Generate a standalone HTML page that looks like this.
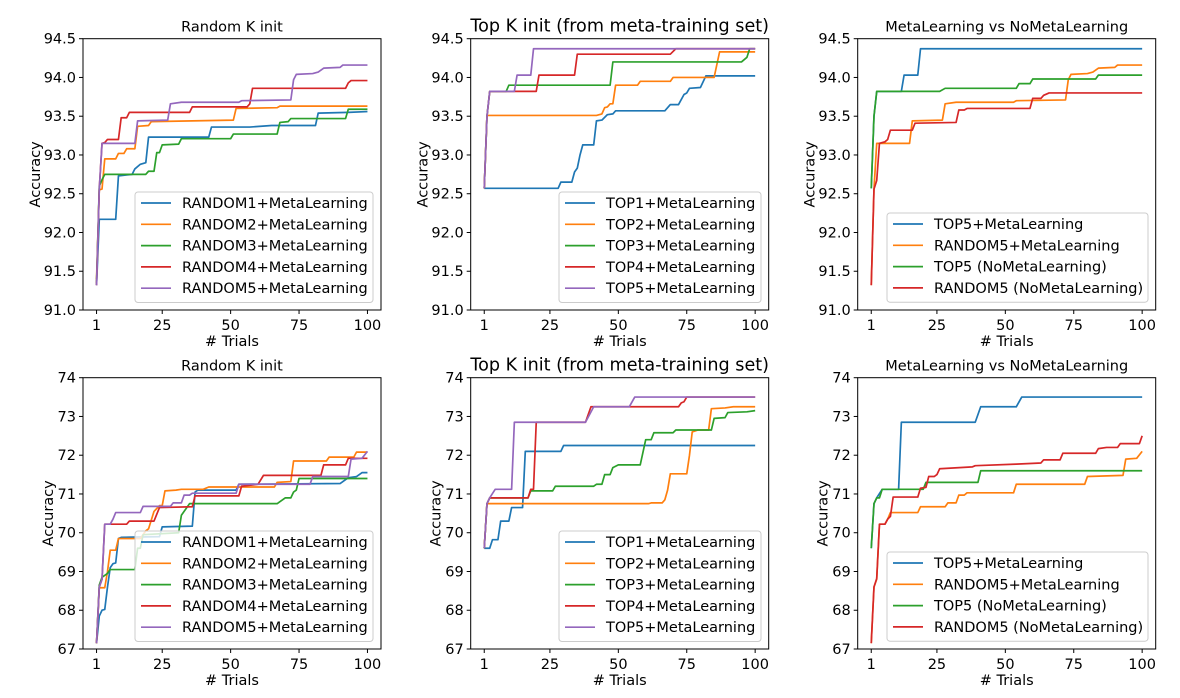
<!DOCTYPE html>
<html><head><meta charset="utf-8">
<style>
html,body{margin:0;padding:0;background:#fff;}
svg{display:block;font-family:"DejaVu Sans","Liberation Sans",sans-serif;}
</style></head>
<body>
<svg id="fig" width="1180" height="698" viewBox="0 0 1180 698"></svg>
<script>
const C = ['#1f77b4','#ff7f0e','#2ca02c','#d62728','#9467bd'];
const xTicks = [1,25,50,75,100];
const yTicksTop = [91.0,91.5,92.0,92.5,93.0,93.5,94.0,94.5];
const yTicksBot = [67,68,69,70,71,72,73,74];
const titles = ['Random K init','Top K init (from meta-training set)','MetaLearning vs NoMetaLearning'];
const legendRandom = ['RANDOM1+MetaLearning','RANDOM2+MetaLearning','RANDOM3+MetaLearning','RANDOM4+MetaLearning','RANDOM5+MetaLearning'];
const legendTop = ['TOP1+MetaLearning','TOP2+MetaLearning','TOP3+MetaLearning','TOP4+MetaLearning','TOP5+MetaLearning'];
const legendCmp = ['TOP5+MetaLearning','RANDOM5+MetaLearning','TOP5 (NoMetaLearning)','RANDOM5 (NoMetaLearning)'];

// Top row, plot 1 (trial x, accuracy y)
const p1x = [
 [1,2,8,9,14,15,17,19,20,42,43,57,65,81,82,93,100],
 [1,2,3,4,8,9,11,12,15,16,20,21,51,52,67,68,100],
 [1,2,3,4,19,20,22,23,24,25,31,32,50,51,67,68,71,72,92,93,100],
 [1,2,3,4,5,9,10,12,13,35,36,56,57,58,92,93,94,100],
 [1,2,3,15,16,27,28,32,53,54,72,73,74,80,82,84,90,91,100]];
const p1y = [
 [91.32,92.17,92.17,92.73,92.75,92.82,92.88,92.9,93.23,93.23,93.36,93.36,93.38,93.38,93.54,93.55,93.56],
 [91.4,92.55,92.56,92.95,92.95,93.02,93.02,93.08,93.08,93.37,93.38,93.43,93.45,93.6,93.61,93.63,93.63],
 [91.35,92.6,92.68,92.75,92.75,92.79,92.79,93.03,93.03,93.13,93.14,93.21,93.21,93.27,93.27,93.42,93.43,93.47,93.47,93.59,93.59],
 [91.32,92.56,93.15,93.16,93.2,93.2,93.48,93.48,93.55,93.55,93.62,93.62,93.66,93.86,93.86,93.93,93.96,93.96],
 [91.32,92.56,93.15,93.15,93.44,93.45,93.66,93.68,93.68,93.7,93.71,93.97,94.04,94.05,94.07,94.12,94.13,94.16,94.16]];
// Top row, plot 2
const p2x = [
 [1,28,29,33,34,35,36,37,41,42,44,46,48,49,67,69,72,74,75,76,80,82,100],
 [1,2,42,44,45,46,47,48,49,57,58,69,70,85,87,100],
 [1,2,3,9,10,47,48,95,97,98,100],
 [1,2,3,20,21,34,35,69,71,100],
 [1,2,3,12,13,18,19,100]];
const p2y = [
 [92.57,92.57,92.65,92.65,92.78,92.83,93.0,93.13,93.13,93.44,93.45,93.52,93.53,93.57,93.57,93.65,93.65,93.78,93.8,93.86,93.87,94.02,94.02],
 [92.57,93.51,93.51,93.53,93.61,93.62,93.66,93.66,93.9,93.9,93.95,93.95,94.0,94.0,94.33,94.33],
 [92.57,93.5,93.82,93.82,93.9,93.9,94.2,94.2,94.26,94.37,94.37],
 [92.57,93.5,93.82,93.82,94.03,94.03,94.3,94.3,94.37,94.37],
 [92.57,93.5,93.82,93.82,94.03,94.03,94.37,94.37]];
// Top row, plot 3
const p3x = [
 [1,2,3,12,13,18,19,100],
 [1,2,3,15,16,27,28,32,53,54,72,73,74,80,82,84,90,91,100],
 [1,2,3,26,28,54,55,59,60,83,84,100],
 [1,2,3,4,6,7,8,16,17,32,33,35,36,59,60,63,64,66,100]];
const p3y = [
 [92.57,93.5,93.82,93.82,94.03,94.03,94.37,94.37],
 [91.32,92.56,93.15,93.15,93.44,93.45,93.66,93.68,93.68,93.7,93.71,93.97,94.04,94.05,94.07,94.12,94.13,94.16,94.16],
 [92.57,93.5,93.82,93.82,93.86,93.86,93.92,93.92,93.98,93.98,94.03,94.03],
 [91.32,92.56,92.67,93.15,93.17,93.2,93.32,93.32,93.41,93.42,93.58,93.58,93.6,93.6,93.73,93.73,93.77,93.8,93.8]];
// Bottom row, plot 4
const p4x = [
 [1,2,3,4,5,6,7,8,9,10,24,25,36,37,38,52,53,90,93,96,98,100],
 [1,2,4,5,6,8,9,17,19,20,22,24,25,26,30,32,40,42,66,67,72,73,85,86,95,96,100],
 [1,2,3,5,6,15,16,17,18,31,32,33,35,67,68,70,72,73,74,75,100],
 [1,2,3,4,12,13,22,24,36,37,53,54,60,62,83,84,92,93,100],
 [1,2,3,4,6,7,8,17,18,28,29,32,33,35,36,52,53,79,80,93,94,98,100]];
const p4y = [
 [67.15,67.85,68.0,68.02,68.6,69.1,69.2,69.22,69.85,69.88,69.9,70.15,70.17,71.05,71.1,71.1,71.25,71.27,71.42,71.45,71.55,71.55],
 [67.15,68.58,68.58,69.0,69.55,69.55,69.85,69.85,70.05,70.1,70.55,70.7,70.7,71.08,71.1,71.12,71.12,71.18,71.18,71.3,71.32,71.85,71.85,71.95,71.95,72.08,72.08],
 [67.15,68.65,68.85,68.95,69.05,69.05,69.6,69.6,69.95,70.0,70.45,70.55,70.75,70.75,70.8,70.9,70.9,71.05,71.1,71.4,71.4],
 [67.15,68.6,68.8,70.22,70.22,70.3,70.3,70.65,70.67,70.95,70.95,71.2,71.25,71.48,71.48,71.75,71.75,71.92,71.92],
 [67.15,68.6,68.8,70.22,70.22,70.35,70.52,70.52,70.68,70.68,70.77,70.77,70.97,70.97,71.02,71.02,71.25,71.25,71.45,71.45,71.9,71.92,72.1]];
// Bottom row, plot 5
const p5x = [
 [1,3,4,6,7,10,11,15,16,29,30,100],
 [1,2,61,62,66,67,68,69,75,76,77,79,83,84,89,92,100],
 [1,2,3,17,18,26,27,41,42,44,45,47,48,50,58,60,62,63,70,71,84,85,89,90,97,100],
 [1,2,3,17,18,19,20,38,40,72,73,74,75,100],
 [1,2,3,5,11,12,38,41,54,56,100]];
const p5y = [
 [69.6,69.6,69.82,69.82,70.3,70.3,70.65,70.65,72.1,72.1,72.25,72.25],
 [69.6,70.75,70.75,70.77,70.77,70.85,71.1,71.52,71.52,72.0,72.6,72.65,72.65,73.2,73.22,73.25,73.25],
 [69.6,70.75,70.9,70.9,71.08,71.08,71.2,71.2,71.25,71.25,71.5,71.5,71.68,71.75,71.75,72.4,72.4,72.58,72.58,72.65,72.65,72.95,72.97,73.1,73.12,73.15],
 [69.6,70.75,70.9,70.9,71.12,71.12,72.85,72.85,73.25,73.25,73.35,73.38,73.5,73.5],
 [69.6,70.75,70.9,71.12,71.12,72.85,72.85,73.25,73.25,73.5,73.5]];
// Bottom row, plot 6
const p6x = [
 [1,2,3,5,11,12,39,41,54,56,100],
 [1,2,3,4,6,7,8,18,19,28,29,32,33,35,36,53,54,79,80,93,94,98,100],
 [1,2,3,4,5,20,21,40,41,100],
 [1,2,3,4,6,7,8,9,18,19,21,22,24,25,26,38,39,54,63,64,70,71,83,84,87,91,92,99,100]];
const p6y = [
 [69.6,70.75,70.9,71.12,71.12,72.85,72.85,73.25,73.25,73.5,73.5],
 [67.15,68.6,68.8,70.22,70.22,70.35,70.52,70.52,70.67,70.67,70.77,70.77,70.97,70.97,71.03,71.03,71.25,71.25,71.45,71.48,71.9,71.92,72.1],
 [69.6,70.75,70.9,70.9,71.12,71.12,71.3,71.3,71.6,71.6],
 [67.15,68.6,68.82,70.22,70.22,70.35,70.42,70.92,70.92,71.15,71.17,71.45,71.45,71.5,71.65,71.7,71.73,71.77,71.8,71.88,71.88,72.05,72.05,72.17,72.2,72.2,72.3,72.3,72.5]];

const NS='http://www.w3.org/2000/svg';
const svg=document.getElementById('fig');
function mk(tag,attrs,parent){const e=document.createElementNS(NS,tag);for(const k in attrs)e.setAttribute(k,attrs[k]);(parent||svg).appendChild(e);return e;}

const lefts=[83,470.7,857.7], W=298;
const rows=[{top:38.7,bot:310,ticks:yTicksTop,lo:91,hi:94.5,dec:1},{top:377.7,bot:649,ticks:yTicksBot,lo:67,hi:74,dec:0}];
const panels=[
 {r:0,c:0,xs:p1x,ys:p1y,leg:legendRandom,lx:135,ly:192,lw:238,tsize:14.5},
 {r:0,c:1,xs:p2x,ys:p2y,leg:legendTop,lx:559,ly:192,lw:202,tsize:17.6},
 {r:0,c:2,xs:p3x,ys:p3y,leg:legendCmp,lx:887,ly:213,lw:261,tsize:14.5},
 {r:1,c:0,xs:p4x,ys:p4y,leg:legendRandom,lx:135,ly:531,lw:238,tsize:14.5},
 {r:1,c:1,xs:p5x,ys:p5y,leg:legendTop,lx:559,ly:531,lw:202,tsize:17.6},
 {r:1,c:2,xs:p6x,ys:p6y,leg:legendCmp,lx:887,ly:552,lw:261,tsize:14.5}];

panels.forEach((p,pi)=>{
 const R=rows[p.r], L=lefts[p.c];
 const xmin=1-4.95, xmax=100+4.95;
 const sx=v=>L+(v-xmin)/(xmax-xmin)*W;
 const sy=v=>R.bot-(v-R.lo)/(R.hi-R.lo)*(R.bot-R.top);
 const g=mk('g',{});
 
 
 const t=mk('text',{x:L+W/2,y:R.top-7,'text-anchor':'middle','font-size':p.tsize,fill:'#000'},g);
 t.textContent=titles[p.c];
 
 
 const cp='clip'+pi;
 const cl=mk('clipPath',{id:cp},g); mk('rect',{x:L,y:R.top,width:W,height:R.bot-R.top},cl);
 p.xs.forEach((xa,si)=>{
  const d=xa.map((x,i)=>(i?'L':'M')+sx(x).toFixed(2)+' '+sy(p.ys[si][i]).toFixed(2)).join(' ');
  const path=mk('path',{d:d,fill:'none',stroke:C[si],'stroke-width':1.7,'stroke-linejoin':'round','clip-path':'url(#'+cp+')'},g);
  
  
 });
 const fr=mk('rect',{x:L,y:R.top,width:W,height:R.bot-R.top,fill:'none',stroke:'#000','stroke-width':1},g);
 
 
 xTicks.forEach(v=>{
  mk('line',{x1:sx(v),x2:sx(v),y1:R.bot,y2:R.bot+4,stroke:'#000','stroke-width':1},g);
  const tl=mk('text',{x:sx(v),y:R.bot+20,'text-anchor':'middle','font-size':14.5,fill:'#000'},g);
  tl.textContent=v;
  
  
 });
 R.ticks.forEach(v=>{
  mk('line',{x1:L-4,x2:L,y1:sy(v),y2:sy(v),stroke:'#000','stroke-width':1},g);
  const tl=mk('text',{x:L-7,y:sy(v)+5,'text-anchor':'end','font-size':14.5,fill:'#000'},g);
  tl.textContent=v.toFixed(R.dec);
  
  
 });
 const xt=mk('text',{x:L+W/2,y:R.bot+36,'text-anchor':'middle','font-size':14.5,fill:'#000'},g);
 xt.textContent='# Trials';
 
 
 const yx = p.r===0 ? L-43 : L-30;
 const cy=(R.top+R.bot)/2;
 const yt=mk('text',{x:yx,y:cy,'text-anchor':'middle','font-size':14.5,fill:'#000',transform:'rotate(-90 '+yx+' '+cy+')'},g);
 yt.textContent='Accuracy';
 
 
 const n=p.leg.length, lh=n*21.3+4;
 const lg=mk('g',{},g);
 
 
 mk('rect',{x:p.lx,y:p.ly,width:p.lw,height:lh,rx:3,fill:'#fff','fill-opacity':0.8,stroke:'#ccc','stroke-width':1},lg);
 p.leg.forEach((s,i)=>{
  const yy=p.ly+11+i*21.3;
  const ll=mk('line',{x1:p.lx+6,x2:p.lx+36,y1:yy,y2:yy,stroke:C[i],'stroke-width':1.7},lg);
  
  
  const lt=mk('text',{x:p.lx+47,y:yy+5,'font-size':14.5,fill:'#000'},lg);
  lt.textContent=s;
  
  
 });
});
</script>
</body></html>
